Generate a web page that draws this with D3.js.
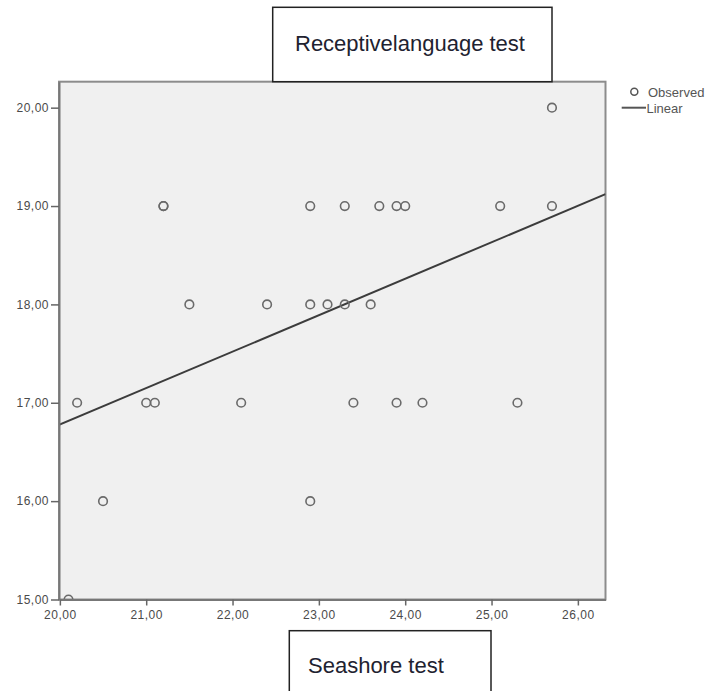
<!DOCTYPE html>
<html>
<head>
    <meta charset="utf-8">
    <style>
        body {
            margin: 0;
            background: #fff;
            font-family: 'Liberation Sans', Arial, sans-serif;
        }

        svg {
            display: block;
        }

        .tick text {
            font-size: 12px;
            letter-spacing: 0.5px;
            fill: #4a4a4a;
        }

        .tick line {
            stroke: #666;
            stroke-width: 1.5;
        }

        .box-title {
            font-size: 22px;
            fill: #1e2230;
        }

        .legend text {
            font-size: 13px;
            fill: #555;
        }
    </style>
</head>
<body>
    <svg width="711" height="691"></svg>
</body>
<script src="https://d3js.org/d3.v7.min.js"></script>
<script>
    // seashore test (x) and receptive language test (y), one entry per child
    let seashore = [
        25.7,
        21.2, 21.2, 22.9, 23.3, 23.7, 23.9, 24.0, 25.1, 25.7,
        21.5, 22.4, 22.9, 23.1, 23.3, 23.6,
        20.2, 21.0, 21.1, 22.1, 23.4, 23.9, 24.2, 25.3,
        20.5, 22.9,
        20.1
    ];
    let receptive = [
        20,
        19, 19, 19, 19, 19, 19, 19, 19, 19,
        18, 18, 18, 18, 18, 18,
        17, 17, 17, 17, 17, 17, 17, 17,
        16, 16,
        15
    ];
    let xTicks = [20, 21, 22, 23, 24, 25, 26];
    let yTicks = [15, 16, 17, 18, 19, 20];
    let legendLabels = ["Observed", "Linear"];

    let svg = d3.select("svg");
    let frame = { left: 59, right: 605.5, top: 81.7, bottom: 599.5 };

    let x = d3.scaleLinear()
        .domain([19.99, 26.32])
        .range([frame.left, frame.right]);
    let y = d3.scaleLinear()
        .domain([15, 20.264])
        .range([frame.bottom, frame.top]);

    // comma as decimal separator, like the original output
    let fmt = d3.formatLocale({ decimal: ",", thousands: ".", grouping: [3], currency: ["", ""] }).format(".2f");

    let points = seashore.map((d, i) => ({ x: d, y: receptive[i] }));

    // least squares fit for the "Linear" line
    let mx = d3.mean(points, d => d.x);
    let my = d3.mean(points, d => d.y);
    let slope = d3.sum(points, d => (d.x - mx) * (d.y - my)) / d3.sum(points, d => (d.x - mx) ** 2);
    let intercept = my - slope * mx;

    svg.append("defs").append("clipPath")
        .attr("id", "plot-clip")
        .append("rect")
        .attr("x", frame.left)
        .attr("y", frame.top)
        .attr("width", frame.right - frame.left)
        .attr("height", frame.bottom - frame.top);

    svg.append("rect")
        .attr("x", frame.left)
        .attr("y", frame.top)
        .attr("width", frame.right - frame.left)
        .attr("height", frame.bottom - frame.top)
        .attr("fill", "#f0f0f0")
        .attr("stroke", "#8c8c8c")
        .attr("stroke-width", 2);

    let plot = svg.append("g").attr("clip-path", "url(#plot-clip)");

    let xs = x.domain();
    plot.append("line")
        .attr("x1", x(xs[0]))
        .attr("y1", y(intercept + slope * xs[0]))
        .attr("x2", x(xs[1]))
        .attr("y2", y(intercept + slope * xs[1]))
        .attr("stroke", "#3c3c3c")
        .attr("stroke-width", 2);

    plot.selectAll(".obs")
        .data(points)
        .join("circle")
        .attr("class", "obs")
        .attr("cx", d => x(d.x))
        .attr("cy", d => y(d.y))
        .attr("r", 4.3)
        .attr("fill", "none")
        .attr("stroke", "#6a6a6a")
        .attr("stroke-width", 1.6);

    // axes
    let xAxis = svg.append("g")
        .attr("transform", `translate(0,${frame.bottom})`)
        .call(d3.axisBottom(x).tickValues(xTicks).tickFormat(fmt)
            .tickSizeInner(6).tickSizeOuter(0).tickPadding(5));
    let yAxis = svg.append("g")
        .attr("transform", `translate(${frame.left},0)`)
        .call(d3.axisLeft(y).tickValues(yTicks).tickFormat(fmt)
            .tickSizeInner(8).tickSizeOuter(0).tickPadding(2));
    xAxis.select(".domain").attr("stroke", "#777").attr("stroke-width", 2);
    yAxis.select(".domain").attr("stroke", "#777").attr("stroke-width", 2);

    // title boxes
    svg.append("rect")
        .attr("x", 272.7).attr("y", 7.3)
        .attr("width", 279.3).attr("height", 74.4)
        .attr("fill", "#fff")
        .attr("stroke", "#222")
        .attr("stroke-width", 1.5);
    svg.append("text")
        .attr("class", "box-title")
        .attr("x", 295)
        .attr("y", 51)
        .text("Receptivelanguage test");

    svg.append("rect")
        .attr("x", 289.3).attr("y", 630.7)
        .attr("width", 201.7).attr("height", 80)
        .attr("fill", "#fff")
        .attr("stroke", "#222")
        .attr("stroke-width", 1.5);
    svg.append("text")
        .attr("class", "box-title")
        .attr("x", 308)
        .attr("y", 673.3)
        .text("Seashore test");

    // legend
    let legend = svg.append("g").attr("class", "legend");
    legend.append("circle")
        .attr("cx", 634.3).attr("cy", 91.7).attr("r", 3.5)
        .attr("fill", "none").attr("stroke", "#555").attr("stroke-width", 1.5);
    legend.append("text")
        .attr("x", 648).attr("y", 96.5)
        .text(legendLabels[0]);
    legend.append("line")
        .attr("x1", 621.7).attr("x2", 646)
        .attr("y1", 107.7).attr("y2", 107.7)
        .attr("stroke", "#555").attr("stroke-width", 2);
    legend.append("text")
        .attr("x", 646.5).attr("y", 112.5)
        .text(legendLabels[1]);
</script>
</html>
